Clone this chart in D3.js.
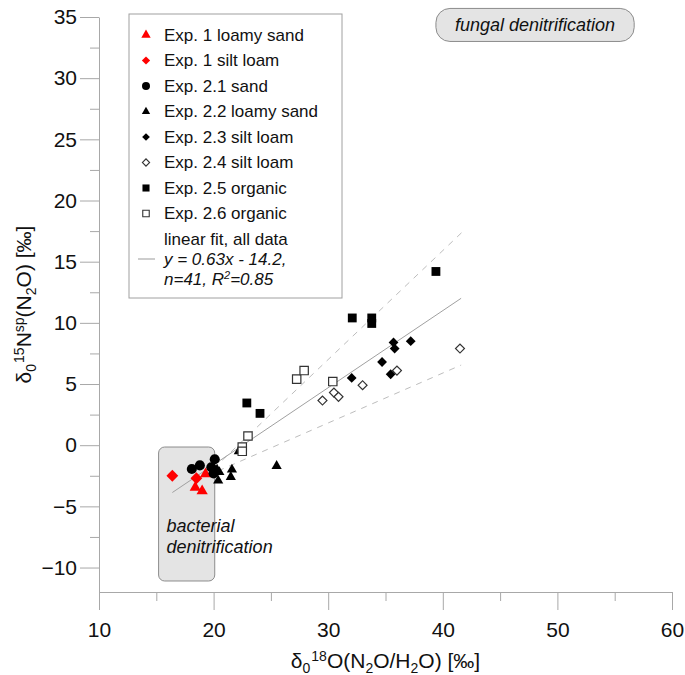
<!DOCTYPE html>
<html lang="en">
<head>
    <meta charset="UTF-8">
    <title>N2O isotopocule mapping</title>
    <script src="https://d3js.org/d3.v7.min.js"></script>
    <style>
        body { margin: 0; background: #fff; }
        svg text { font-family: Arial, "Liberation Sans", sans-serif; fill: #111; }
    </style>
</head>
<body>
    <svg id="chart" width="685" height="675"></svg>

    <script>
        // Datos: [d18O(N2O/H2O), d15Nsp(N2O)]
        const exp1LoamySand = [[18.4, -3.45], [19.0, -3.75], [19.3, -2.35]];
        const exp1SiltLoam = [[16.4, -2.5], [18.5, -2.7]];
        const exp21Sand = [[18.1, -1.95], [18.8, -1.65], [20.1, -1.15], [19.8, -1.8], [20.0, -2.3]];
        const exp22LoamySand = [[22.2, -0.5], [25.5, -1.7], [21.6, -2.0], [21.5, -2.6], [20.5, -2.2], [20.4, -2.9], [20.3, -2.0]];
        const exp23SiltLoam = [[32.05, 5.5], [34.7, 6.8], [35.45, 5.8], [35.7, 8.4], [35.8, 7.9], [37.2, 8.5]];
        const exp24SiltLoam = [[41.5, 7.9], [36.0, 6.1], [33.0, 4.9], [29.5, 3.65], [30.5, 4.3], [30.9, 3.95]];
        const exp25Organic = [[22.9, 3.45], [24.05, 2.6], [32.1, 10.4], [33.8, 10.4], [33.8, 9.95], [39.4, 14.2]];
        const exp26Organic = [[23.0, 0.75], [22.5, -0.15], [22.5, -0.5], [27.25, 5.4], [27.9, 6.1], [30.4, 5.2]];

        // Ajuste lineal y bandas
        const fitSlope = 0.63;
        const fitIntercept = -14.2;
        const fitXRange = [16.4, 41.6];
        const upperBand = [[20.0, -1.9], [41.9, 17.6]];
        const lowerBand = [[20.4, -2.1], [41.6, 6.55]];

        // Ejes
        const xTicks = [10, 20, 30, 40, 50, 60];
        const xMinorTicks = [15, 25, 35, 45, 55];
        const yTicks = [-10, -5, 0, 5, 10, 15, 20, 25, 30, 35];
        const yMinorTicks = [-7.5, -2.5, 2.5, 7.5, 12.5, 17.5, 22.5, 27.5, 32.5];

        // Zonas
        const bacterialBox = {x: [15.2, 20.1], y: [-11.1, -0.15]};
        const fungalBox = {x: [39.4, 56.7], y: [33.0, 35.7]};

        const series = [
            {label: "Exp. 1 loamy sand", data: exp1LoamySand, shape: "triangle", fill: "#ff0000", stroke: "none", size: 55, legendSize: 38},
            {label: "Exp. 1 silt loam", data: exp1SiltLoam, shape: "diamond", fill: "#ff0000", stroke: "none", size: 70, legendSize: 34},
            {label: "Exp. 2.1 sand", data: exp21Sand, shape: "circle", fill: "#000", stroke: "none", size: 80, legendSize: 50},
            {label: "Exp. 2.2 loamy sand", data: exp22LoamySand, shape: "triangle", fill: "#000", stroke: "none", size: 45, legendSize: 30},
            {label: "Exp. 2.3 silt loam", data: exp23SiltLoam, shape: "diamond", fill: "#000", stroke: "none", size: 48, legendSize: 30},
            {label: "Exp. 2.4 silt loam", data: exp24SiltLoam, shape: "diamond", fill: "#fff", stroke: "#333", size: 40, legendSize: 26},
            {label: "Exp. 2.5 organic", data: exp25Organic, shape: "square", fill: "#000", stroke: "none", size: 78, legendSize: 50},
            {label: "Exp. 2.6 organic", data: exp26Organic, shape: "square", fill: "#fff", stroke: "#333", size: 70, legendSize: 42}
        ];

        const svg = d3.select("#chart");

        const x = d3.scaleLinear().domain([10, 60]).range([99, 672]);
        const y = d3.scaleLinear().domain([-12, 35]).range([592, 17]);

        const axisColor = "#a8a8a8";

        // Zona bacteriana
        svg.append("rect")
           .attr("x", x(bacterialBox.x[0]))
           .attr("y", y(bacterialBox.y[1]))
           .attr("width", x(bacterialBox.x[1]) - x(bacterialBox.x[0]))
           .attr("height", y(bacterialBox.y[0]) - y(bacterialBox.y[1]))
           .attr("rx", 6)
           .attr("fill", "#e4e4e4")
           .attr("stroke", "#8c8c8c")
           .attr("stroke-width", 1);

        // Zona fúngica
        svg.append("rect")
           .attr("x", x(fungalBox.x[0]))
           .attr("y", y(fungalBox.y[1]))
           .attr("width", x(fungalBox.x[1]) - x(fungalBox.x[0]))
           .attr("height", y(fungalBox.y[0]) - y(fungalBox.y[1]))
           .attr("rx", 14)
           .attr("fill", "#e4e4e4")
           .attr("stroke", "#8c8c8c")
           .attr("stroke-width", 1);

        svg.append("text")
           .attr("x", x(fungalBox.x[0]) + 19)
           .attr("y", y(fungalBox.y[0]) - 10)
           .attr("font-size", "18px")
           .attr("font-style", "italic")
           .text("fungal denitrification");

        const bact = svg.append("text")
           .attr("font-size", "18px")
           .attr("font-style", "italic");
        bact.append("tspan").attr("x", x(bacterialBox.x[0]) + 8).attr("y", 532).text("bacterial");
        bact.append("tspan").attr("x", x(bacterialBox.x[0]) + 8).attr("y", 553).text("denitrification");

        // Ejes
        const xAxis = svg.append("g")
           .attr("transform", `translate(0,${y(-12)})`)
           .call(d3.axisBottom(x).tickValues(xTicks).tickSize(18).tickSizeOuter(0).tickPadding(12));
        svg.append("g")
           .attr("transform", `translate(0,${y(-12)})`)
           .call(d3.axisBottom(x).tickValues(xMinorTicks).tickSize(9).tickFormat(""))
           .select(".domain").remove();

        const yAxis = svg.append("g")
           .attr("transform", `translate(${x(10)},0)`)
           .call(d3.axisLeft(y).tickValues(yTicks).tickSize(19).tickSizeOuter(0).tickPadding(3));
        svg.append("g")
           .attr("transform", `translate(${x(10)},0)`)
           .call(d3.axisLeft(y).tickValues(yMinorTicks).tickSize(9).tickFormat(""))
           .select(".domain").remove();

        svg.selectAll(".domain, .tick line").attr("stroke", axisColor);
        svg.selectAll(".tick text")
           .attr("font-size", "21px")
           .attr("font-family", "Arial, 'Liberation Sans', sans-serif")
           .attr("fill", "#111");

        // Título eje X
        const xt = svg.append("text")
           .attr("x", (x(10) + x(60)) / 2)
           .attr("y", 668)
           .attr("text-anchor", "middle")
           .attr("font-size", "21px");
        xt.append("tspan").text("δ");
        xt.append("tspan").attr("font-size", "14px").attr("dy", 5).text("0");
        xt.append("tspan").attr("font-size", "14px").attr("dy", -12).attr("dx", 1).text("18");
        xt.append("tspan").attr("dy", 7).text("O(N");
        xt.append("tspan").attr("font-size", "14px").attr("dy", 5).text("2");
        xt.append("tspan").attr("dy", -5).text("O/H");
        xt.append("tspan").attr("font-size", "14px").attr("dy", 5).text("2");
        xt.append("tspan").attr("dy", -5).text("O) [‰]");

        // Título eje Y
        const yt = svg.append("text")
           .attr("transform", `translate(31,${(y(-12) + y(35)) / 2}) rotate(-90)`)
           .attr("text-anchor", "middle")
           .attr("font-size", "21px");
        yt.append("tspan").text("δ");
        yt.append("tspan").attr("font-size", "14px").attr("dy", 5).text("0");
        yt.append("tspan").attr("font-size", "14px").attr("dy", -12).attr("dx", 1).text("15");
        yt.append("tspan").attr("dy", 7).text("N");
        yt.append("tspan").attr("font-size", "14px").attr("dy", -7).text("sp");
        yt.append("tspan").attr("dy", 7).text("(N");
        yt.append("tspan").attr("font-size", "14px").attr("dy", 5).text("2");
        yt.append("tspan").attr("dy", -5).text("O) [‰]");

        // Líneas de ajuste
        const line = d3.line().x(d => x(d[0])).y(d => y(d[1]));

        svg.append("path")
           .datum(upperBand)
           .attr("fill", "none")
           .attr("stroke", "#bdbdbd")
           .attr("stroke-width", 1)
           .attr("stroke-dasharray", "6,6")
           .attr("d", line);
        svg.append("path")
           .datum(lowerBand)
           .attr("fill", "none")
           .attr("stroke", "#bdbdbd")
           .attr("stroke-width", 1)
           .attr("stroke-dasharray", "6,6")
           .attr("d", line);
        svg.append("path")
           .datum(fitXRange.map(v => [v, fitSlope * v + fitIntercept]))
           .attr("fill", "none")
           .attr("stroke", "#a0a0a0")
           .attr("stroke-width", 1)
           .attr("d", line);

        // Símbolos
        function symbolPath(shape, size) {
            const types = {triangle: d3.symbolTriangle, circle: d3.symbolCircle, square: d3.symbolSquare, diamond: d3.symbolSquare};
            return d3.symbol().type(types[shape]).size(size)();
        }
        function rot(shape) { return shape === "diamond" ? " rotate(45)" : ""; }

        series.forEach(s => {
            svg.append("g").selectAll("path")
               .data(s.data)
               .enter()
               .append("path")
               .attr("d", symbolPath(s.shape, s.size))
               .attr("transform", d => `translate(${x(d[0])},${y(d[1])})` + rot(s.shape))
               .attr("fill", s.fill)
               .attr("stroke", s.stroke)
               .attr("stroke-width", 1.2);
        });

        // Leyenda
        const legend = svg.append("g");
        legend.append("rect")
           .attr("x", 129).attr("y", 14)
           .attr("width", 213).attr("height", 284)
           .attr("fill", "#fff")
           .attr("stroke", "#a0a0a0");

        series.forEach((s, i) => {
            const cy = 35 + i * 25.5;
            legend.append("path")
               .attr("d", symbolPath(s.shape, s.legendSize))
               .attr("transform", `translate(146,${cy})` + rot(s.shape))
               .attr("fill", s.fill)
               .attr("stroke", s.stroke)
               .attr("stroke-width", 1.1);
            legend.append("text")
               .attr("x", 164).attr("y", cy)
               .attr("dy", "0.35em")
               .attr("font-size", "17px")
               .text(s.label);
        });

        legend.append("text").attr("x", 164).attr("y", 239).attr("dy", "0.35em")
           .attr("font-size", "17px").text("linear fit, all data");
        legend.append("line")
           .attr("x1", 138).attr("x2", 155).attr("y1", 259).attr("y2", 259)
           .attr("stroke", "#bdbdbd").attr("stroke-width", 1.5);
        legend.append("text").attr("x", 164).attr("y", 259).attr("dy", "0.35em")
           .attr("font-size", "17px").attr("font-style", "italic").text("y = 0.63x - 14.2,");
        const r2 = legend.append("text").attr("x", 164).attr("y", 279).attr("dy", "0.35em")
           .attr("font-size", "17px").attr("font-style", "italic");
        r2.append("tspan").text("n=41, R");
        r2.append("tspan").attr("font-size", "11px").attr("dy", -6).text("2");
        r2.append("tspan").attr("dy", 6).text("=0.85");
    </script>
</body>
</html>
